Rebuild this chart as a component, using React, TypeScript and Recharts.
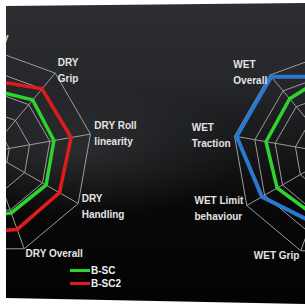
import {
  Legend,
  PolarAngleAxis,
  PolarGrid,
  PolarRadiusAxis,
  Radar,
  RadarChart,
} from 'recharts';

const dryAxes = [
  'DRY\nStability',
  'DRY\nGrip',
  'DRY Roll\nlinearity',
  'DRY\nHandling',
  'DRY Overall',
  'DRY\nBraking',
  'DRY\nSteering',
  'DRY\nComfort',
  'DRY\nPrecision',
];
const drySc = [61, 66, 64, 64, 63, 68, 66, 65, 64];
const drySc2 = [70, 80, 81, 79, 80, 85, 82, 80, 78];

const wetAxes = [
  'WET\nAquaplaning',
  'WET\nBraking',
  'WET\nComfort',
  'WET\nHandling',
  'WET\nStability',
  'WET Grip',
  'WET Limit\nbehaviour',
  'WET\nTraction',
  'WET\nOverall',
];
const wetSc = [82, 68, 66, 66, 65, 63, 66, 69, 70];
const wetSc3 = [75, 85, 85, 80, 75, 70, 83, 98, 98];

const dryData = dryAxes.map((axis, i) => ({ axis, sc: drySc[i], sc2: drySc2[i] }));
const wetData = wetAxes.map((axis, i) => ({ axis, sc: wetSc[i], sc3: wetSc3[i] }));

const FONT = '"Liberation Sans", Arial, sans-serif';
const W = 305;
const H = 304;

let ctx: CanvasRenderingContext2D | null = null;
function textWidth(s: string) {
  if (!ctx) ctx = document.createElement('canvas').getContext('2d');
  if (!ctx) return s.length * 6;
  ctx.font = `bold 10px ${FONT}`;
  return ctx.measureText(s).width;
}

// multi-line label, lines left-aligned inside a block that follows the anchor
function AxisLabel(props: any) {
  const { x, y, payload, textAnchor } = props;
  const lines = String(payload.value).split('\n');
  const w = Math.max(...lines.map(textWidth));
  const left = textAnchor === 'end' ? x - w : textAnchor === 'middle' ? x - w / 2 : x;
  // the charts are cropped by the frame, labels lying wholly outside it are not drawn
  if (left + w < 0 || left > W) return null;
  const lh = 16;
  const top = textAnchor === 'middle' ? y - 8 - (lines.length - 1) * lh : y - ((lines.length - 1) * lh) / 2;
  return (
    <text fill="#e4e4e4" fontSize={10} fontWeight="bold" fontFamily={FONT} dominantBaseline="central">
      {lines.map((l, i) => (
        <tspan key={i} x={left} y={top + i * lh}>
          {l}
        </tspan>
      ))}
    </text>
  );
}

function LegendBox(props: any) {
  const { payload = [] } = props;
  return (
    <div style={{ display: 'flex', flexDirection: 'column' }}>
      {payload.map((p: any) => (
        <div key={p.value} style={{ display: 'flex', alignItems: 'center', height: 13 }}>
          <span style={{ width: 20, height: 3, background: p.color, display: 'inline-block' }} />
          <span style={{ color: '#eeeeee', fontSize: 10, fontWeight: 'bold', fontFamily: FONT, marginLeft: 1 }}>
            {p.value}
          </span>
        </div>
      ))}
    </div>
  );
}

export default function App() {
  return (
    <div style={{ position: 'fixed', left: 0, top: 0, width: W, height: H, background: '#fff' }}>
      <div
        style={{
          position: 'absolute',
          left: 0,
          top: 0,
          width: W,
          height: H,
          clipPath: 'polygon(6px 6px, 305px 3px, 305px 304px, 6px 298px)',
          background:
            'radial-gradient(ellipse 160px 70px at 80px 150px, rgba(80,82,86,0.35), rgba(0,0,0,0) 100%), linear-gradient(180deg, #2c2e31 0%, #26282b 25%, #17181a 48%, #080808 68%, #030303 100%)',
        }}
      >
        <div style={{ position: 'absolute', left: 0, top: 0 }}>
          <RadarChart
            width={W}
            height={H}
            data={dryData}
            cx={-11}
            cy={152}
            outerRadius={103}
            margin={{ top: 0, right: 0, bottom: 0, left: 0 }}
          >
            <PolarGrid stroke="#9c9c9c" strokeWidth={1} />
            <PolarAngleAxis dataKey="axis" tick={<AxisLabel />} tickSize={4} tickLine={false} axisLine={false} />
            <PolarRadiusAxis domain={[0, 100]} tickCount={6} tick={false} axisLine={false} />
            <Radar name="B-SC" dataKey="sc" stroke="#2fd22f" strokeWidth={3.5} fill="none" fillOpacity={0} dot={false} isAnimationActive={false} />
            <Radar name="B-SC2" dataKey="sc2" stroke="#e11b1b" strokeWidth={3.5} fill="none" fillOpacity={0} dot={false} isAnimationActive={false} />
            <Legend content={<LegendBox />} wrapperStyle={{ left: 70, top: 264, bottom: 'auto', width: 'auto' }} />
          </RadarChart>
        </div>
        <div style={{ position: 'absolute', left: 0, top: 0 }}>
          <RadarChart
            width={W}
            height={H}
            data={wetData}
            cx={336}
            cy={154}
            outerRadius={103}
            margin={{ top: 0, right: 0, bottom: 0, left: 0 }}
          >
            <PolarGrid stroke="#9c9c9c" strokeWidth={1} />
            <PolarAngleAxis dataKey="axis" tick={<AxisLabel />} tickSize={4} tickLine={false} axisLine={false} />
            <PolarRadiusAxis domain={[0, 100]} tickCount={6} tick={false} axisLine={false} />
            <Radar name="B-SC" dataKey="sc" stroke="#2fd22f" strokeWidth={3.5} fill="none" fillOpacity={0} dot={false} isAnimationActive={false} />
            <Radar name="B-SC3" dataKey="sc3" stroke="#2a78cf" strokeWidth={4} fill="none" fillOpacity={0} dot={false} isAnimationActive={false} />
          </RadarChart>
        </div>
      </div>
    </div>
  );
}
